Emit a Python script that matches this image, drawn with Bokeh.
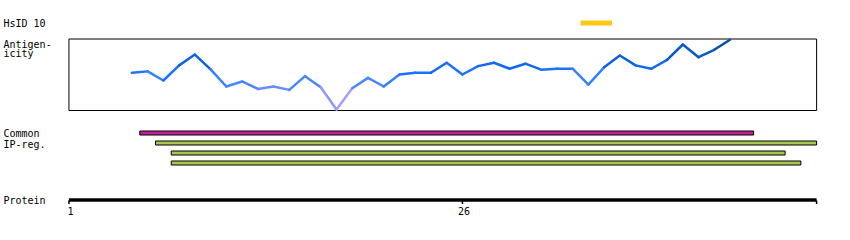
from bokeh.plotting import figure
from bokeh.models import Range1d, ColumnDataSource, LinearColorMapper
from bokeh.transform import transform
from bokeh.core.properties import value
from bokeh.embed import file_html
from bokeh.resources import INLINE

# ---------------- data ----------------
track_labels = ["HsID 10", "Antigen-", "icity", "Common", "IP-reg.", "Protein"]

antigen_pos = list(range(5, 44))
antigen_val = [0.07, 0.13, -0.25, 0.38, 0.83, 0.21, -0.50, -0.29, -0.60, -0.50,
               -0.64, -0.07, -0.53, -1.46, -0.57, -0.14, -0.50, 0.00, 0.07, 0.07,
               0.49, 0.00, 0.35, 0.49, 0.24, 0.45, 0.20, 0.24, 0.24, -0.42,
               0.30, 0.79, 0.38, 0.24, 0.61, 1.25, 0.72, 1.03, 1.45]

hsid_start = [34]
hsid_end = [35]

common_start = [6]
common_end = [44]

ipreg_start = [7, 8, 8]
ipreg_end = [48, 46, 47]

protein_start = 1
protein_end = 48.5
tick_pos = [1, 26]
tick_labels = ["1", "26"]

# ---------------- figure ----------------
W, H = 850, 240
p = figure(width=W, height=H, output_backend="svg", toolbar_location=None,
           x_range=Range1d(-3.348, 50.654), y_range=Range1d(H, 0),
           x_axis_location=None, y_axis_location=None, min_border=0,
           outline_line_color=None)
p.xgrid.visible = False
p.ygrid.visible = False
p.background_fill_color = "white"
p.border_fill_color = "white"
p.extra_x_ranges = {"px": Range1d(0, W)}
p.extra_y_ranges = {"ag": Range1d(-6.9167, 3.0833)}

font = value("DejaVu Sans Mono")

# left labels
label_y = [23, 43.5, 52.5, 133, 143.5, 199.5]
p.text(x=[3] * len(track_labels), y=label_y, text=track_labels, x_range_name="px",
       text_font=font, text_font_size="10px", text_baseline="middle",
       text_align="left", text_color="black")

# HsID epitope bar
p.quad(left=[s - 0.5 for s in hsid_start], right=[e + 0.5 for e in hsid_end],
       top=20, bottom=25, fill_color="#fcc918", line_color=None)

# antigenicity box
p.quad(left=[1], right=[48.5], top=[38.5], bottom=[110], fill_color=None,
       line_color="black", line_width=1)

seg = ColumnDataSource(dict(
    x0=antigen_pos[:-1], x1=antigen_pos[1:],
    y0=antigen_val[:-1], y1=antigen_val[1:],
    m=[(a + b) / 2 for a, b in zip(antigen_val[:-1], antigen_val[1:])],
))
palette = ["#b0a8ff", "#a0a0ff", "#9098ff", "#6a8cff", "#4a85ff", "#3580ff",
           "#1a72ff", "#1068f5", "#0a62e0", "#085ac8", "#0650a8", "#054890"]
cmap = LinearColorMapper(palette=palette, low=-1.5, high=1.5)
p.segment(x0="x0", y0="y0", x1="x1", y1="y1", source=seg, y_range_name="ag",
          line_color=transform("m", cmap), line_width=2.5, line_cap="round")

# common bar
p.quad(left=[s - 0.5 for s in common_start], right=[e + 0.5 for e in common_end],
       top=130.5, bottom=134.5, fill_color="#c4209c", line_color="black", line_width=1)

# IP-reg bars
p.quad(left=[s - 0.5 for s in ipreg_start], right=[e + 0.5 for e in ipreg_end],
       top=[140.5, 150.5, 160.5], bottom=[144.5, 154.5, 164.5],
       fill_color="#a6c852", line_color="black", line_width=1)

# protein axis
p.quad(left=[protein_start], right=[protein_end], top=197.7, bottom=201.2,
       fill_color="black", line_color=None)
p.segment(x0=tick_pos + [protein_end], x1=tick_pos + [protein_end],
          y0=200, y1=203.5, line_color="black", line_width=1.5)
p.text(x=tick_pos, y=[210.5] * len(tick_pos), text=tick_labels, text_font=font,
       text_font_size="10px", text_baseline="middle", text_align="center",
       text_color="black", x_offset=1.5)

open("out.html", "w").write(file_html(p, INLINE))
